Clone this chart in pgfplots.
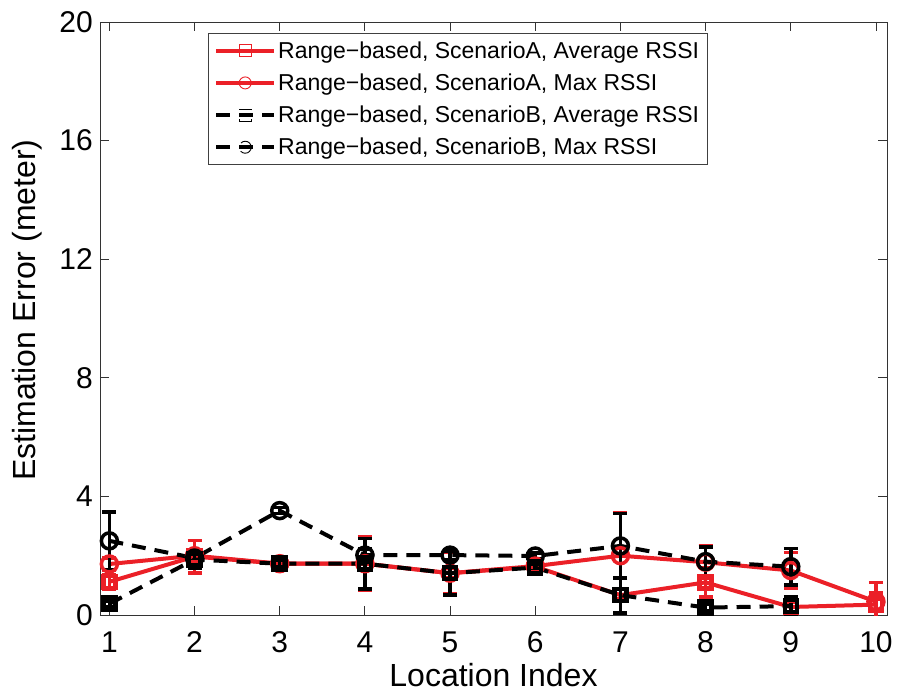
\documentclass[border=0pt]{standalone}
\usepackage{pgfplots}
\pgfplotsset{compat=1.18}
\usepackage{fontspec}
\setmainfont{Liberation Sans}
\definecolor{mred}{RGB}{235,32,39}

\pgfplotstableread{
x y e
1 1.12 0.25
2 1.97 0.55
3 1.73 0.10
4 1.73 0.90
5 1.41 0.70
6 1.63 0.10
7 0.67 0.60
8 1.10 0.50
9 0.27 0.15
10 0.35 0.75
}\AAvg
\pgfplotstableread{
x y e
1 1.72 0.20
2 2.00 0.20
3 1.73 0.10
4 1.73 0.20
5 1.41 0.15
6 1.65 0.10
7 2.00 1.45
8 1.78 0.55
9 1.50 0.60
10 0.45 0.30
}\AMax
\pgfplotstableread{
x y e
1 0.38 0.10
2 1.87 0.30
3 1.73 0.10
4 1.73 0.85
5 1.41 0.73
6 1.60 0.10
7 0.67 0.60
8 0.25 0.10
9 0.30 0.30
}\BAvg
\pgfplotstableread{
x y e
1 2.50 0.97
2 1.92 0.20
3 3.52 0.10
4 2.02 0.20
5 2.02 0.15
6 1.99 0.10
7 2.33 1.10
8 1.80 0.50
9 1.63 0.62
}\BMax

\begin{document}
\begin{tikzpicture}
\begin{axis}[name=ax,
  scale only axis, width=787pt, height=593pt,
  xmin=0.89, xmax=10.13, ymin=0, ymax=20,
  xtick={1,...,10}, ytick={0,4,...,20},
  tick align=inside, major tick length=9pt,
  tick style={black!80, line width=0.8pt},
  axis line style={black!80, line width=0.8pt},
  /pgf/number format/assume math mode=true,
  tick label style={font=\fontsize{30}{30}\selectfont},
  xticklabel style={anchor=base, yshift=-37pt, inner sep=0pt},
  yticklabel style={anchor=east, inner sep=0pt, xshift=-7pt},
  xlabel={Location Index}, ylabel={Estimation Error (meter)},
  label style={font=\fontsize{32}{32}\selectfont},
  xlabel style={at={(axis description cs:0.5,-0.1214)}, anchor=base, inner sep=0pt},
  ylabel style={at={(axis description cs:-0.0928,0.514)}, anchor=center, inner sep=0pt},
  legend style={at={(axis description cs:0.137,0.981)}, anchor=north west,
    font=\fontsize{23}{26}\selectfont, draw=black!75, line width=0.8pt,
    cells={anchor=west}, row sep=10pt, inner ysep=6pt, inner xsep=6pt},
  legend image code/.code={\draw[mark repeat=2,mark phase=2,#1,mark options={line width=0.9pt,mark size=6pt,fill=white}] plot coordinates {(0pt,0pt)(29pt,0pt)(58pt,0pt)};},
  clip=true,
]
\addplot[mred, line width=4pt, mark=square, mark size=6pt, mark options={solid, line width=4.5pt, fill=white},
  error bars/.cd, y dir=both, y explicit, error bar style={line width=3.5pt, solid, mred},
  error mark options={rotate=90, mark size=7pt, line width=3.5pt, mred}]
  table[x=x, y=y, y error=e] {\AAvg};
\addlegendentry{Range\textminus based, ScenarioA, Average RSSI}
\addplot[mred, line width=4pt, mark=o, mark size=8pt, mark options={solid, line width=3.5pt},
  error bars/.cd, y dir=both, y explicit, error bar style={line width=3.5pt, solid, mred},
  error mark options={rotate=90, mark size=7pt, line width=3.5pt, mred}]
  table[x=x, y=y, y error=e] {\AMax};
\addlegendentry{Range\textminus based, ScenarioA, Max RSSI}
\addplot[black, line width=4pt, dash pattern=on 14pt off 9pt, mark=square, mark size=6pt, mark options={solid, line width=4.5pt, fill=white},
  error bars/.cd, y dir=both, y explicit, error bar style={line width=3.5pt, solid, black},
  error mark options={rotate=90, mark size=7pt, line width=3.5pt, black}]
  table[x=x, y=y, y error=e] {\BAvg};
\addlegendentry{Range\textminus based, ScenarioB, Average RSSI}
\addplot[black, line width=4pt, dash pattern=on 14pt off 9pt, mark=o, mark size=8pt, mark options={solid, line width=3.5pt},
  error bars/.cd, y dir=both, y explicit, error bar style={line width=3.5pt, solid, black},
  error mark options={rotate=90, mark size=7pt, line width=3.5pt, black}]
  table[x=x, y=y, y error=e] {\BMax};
\addlegendentry{Range\textminus based, ScenarioB, Max RSSI}
\end{axis}
\pgfresetboundingbox
\path[use as bounding box] ([shift={(-100pt,-78pt)}]ax.south west) rectangle ([shift={(12pt,22pt)}]ax.north east);
\end{tikzpicture}
\end{document}
